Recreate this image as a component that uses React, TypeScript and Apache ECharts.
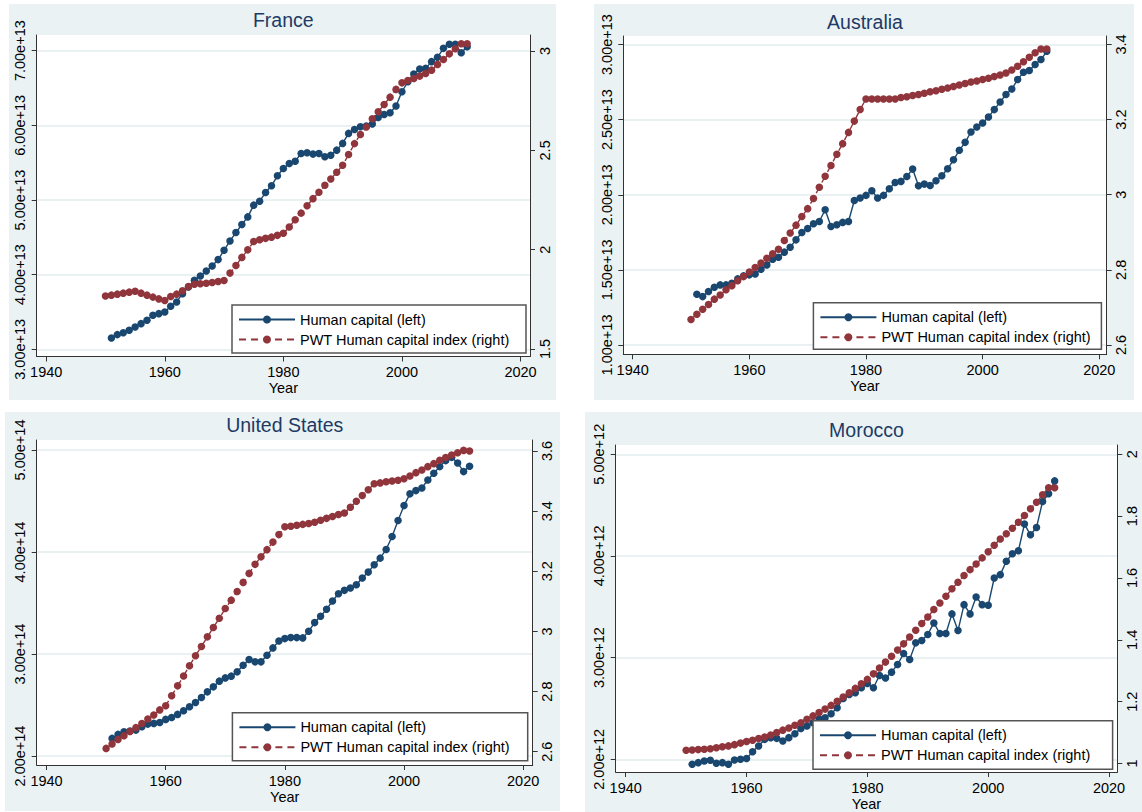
import React, { useEffect, useRef } from "react";
import * as echarts from "echarts";

// ---------- data ----------
const yearsPWT = [
  1950, 1951, 1952, 1953, 1954, 1955, 1956, 1957, 1958, 1959,
  1960, 1961, 1962, 1963, 1964, 1965, 1966, 1967, 1968, 1969,
  1970, 1971, 1972, 1973, 1974, 1975, 1976, 1977, 1978, 1979,
  1980, 1981, 1982, 1983, 1984, 1985, 1986, 1987, 1988, 1989,
  1990, 1991, 1992, 1993, 1994, 1995, 1996, 1997, 1998, 1999,
  2000, 2001, 2002, 2003, 2004, 2005, 2006, 2007, 2008, 2009,
  2010, 2011,
];
const yearsHC = [
  1951, 1952, 1953, 1954, 1955, 1956, 1957, 1958, 1959, 1960,
  1961, 1962, 1963, 1964, 1965, 1966, 1967, 1968, 1969, 1970,
  1971, 1972, 1973, 1974, 1975, 1976, 1977, 1978, 1979, 1980,
  1981, 1982, 1983, 1984, 1985, 1986, 1987, 1988, 1989, 1990,
  1991, 1992, 1993, 1994, 1995, 1996, 1997, 1998, 1999, 2000,
  2001, 2002, 2003, 2004, 2005, 2006, 2007, 2008, 2009, 2010,
  2011,
];

// Human capital (left axis), in units of the panel's exponent
const franceHC = [
  3.152, 3.197, 3.223, 3.255, 3.3, 3.344, 3.389, 3.456, 3.478, 3.5,
  3.577, 3.635, 3.746, 3.836, 3.925, 3.983, 4.05, 4.117, 4.202, 4.327,
  4.452, 4.564, 4.672, 4.774, 4.931, 4.984, 5.1, 5.19, 5.324, 5.422,
  5.489, 5.52, 5.623, 5.632, 5.615, 5.623, 5.579, 5.6, 5.668, 5.758,
  5.892, 5.945, 5.981, 5.99, 6.017, 6.106, 6.146, 6.169, 6.258, 6.45,
  6.584, 6.687, 6.754, 6.763, 6.853, 6.911, 7.031, 7.085, 7.085, 6.973,
  7.054,
];
const francePWT = [
  1.767, 1.771, 1.776, 1.781, 1.786, 1.791, 1.781, 1.771, 1.761, 1.752,
  1.744, 1.764, 1.776, 1.793, 1.814, 1.826, 1.828, 1.831, 1.835, 1.84,
  1.845, 1.882, 1.92, 1.961, 1.999, 2.041, 2.05, 2.057, 2.063, 2.072,
  2.083, 2.114, 2.151, 2.184, 2.221, 2.257, 2.289, 2.324, 2.356, 2.39,
  2.425, 2.479, 2.534, 2.58, 2.618, 2.659, 2.694, 2.731, 2.768, 2.807,
  2.84, 2.852, 2.862, 2.874, 2.887, 2.904, 2.933, 2.958, 2.986, 3.012,
  3.037, 3.037,
];
const australiaHC = [
  1.338, 1.322, 1.356, 1.384, 1.4, 1.4, 1.411, 1.44, 1.46, 1.467,
  1.473, 1.504, 1.533, 1.571, 1.584, 1.618, 1.651, 1.7, 1.749, 1.776,
  1.807, 1.822, 1.9, 1.789, 1.8, 1.816, 1.822, 1.962, 1.978, 1.996,
  2.027, 1.978, 1.996, 2.04, 2.082, 2.089, 2.122, 2.171, 2.06, 2.071,
  2.062, 2.093, 2.127, 2.173, 2.233, 2.296, 2.349, 2.418, 2.451, 2.478,
  2.518, 2.567, 2.618, 2.667, 2.704, 2.767, 2.816, 2.827, 2.867, 2.9,
  2.955,
];
const australiaPWT = [
  2.668, 2.682, 2.695, 2.708, 2.722, 2.733, 2.747, 2.758, 2.771, 2.782,
  2.794, 2.806, 2.818, 2.831, 2.843, 2.855, 2.878, 2.898, 2.919, 2.942,
  2.963, 2.99, 3.02, 3.049, 3.078, 3.108, 3.136, 3.166, 3.196, 3.227,
  3.255, 3.255, 3.255, 3.255, 3.255, 3.255, 3.259, 3.261, 3.264, 3.267,
  3.27, 3.274, 3.277, 3.281, 3.284, 3.288, 3.292, 3.296, 3.3, 3.303,
  3.307, 3.31, 3.315, 3.319, 3.324, 3.332, 3.342, 3.354, 3.366, 3.378,
  3.388, 3.388,
];
const usHC = [
  2.173, 2.212, 2.238, 2.245, 2.254, 2.287, 2.313, 2.32, 2.329, 2.359,
  2.378, 2.408, 2.443, 2.483, 2.525, 2.574, 2.629, 2.678, 2.734, 2.766,
  2.783, 2.825, 2.89, 2.946, 2.923, 2.923, 2.988, 3.06, 3.128, 3.151,
  3.161, 3.161, 3.158, 3.223, 3.308, 3.37, 3.438, 3.52, 3.591, 3.624,
  3.647, 3.679, 3.745, 3.803, 3.875, 3.94, 4.025, 4.152, 4.309, 4.455,
  4.57, 4.602, 4.628, 4.706, 4.772, 4.837, 4.896, 4.928, 4.873, 4.788,
  4.84,
];
const usPWT = [
  2.611, 2.626, 2.641, 2.653, 2.667, 2.68, 2.694, 2.709, 2.722, 2.739,
  2.753, 2.786, 2.819, 2.852, 2.886, 2.919, 2.95, 2.982, 3.013, 3.044,
  3.076, 3.104, 3.133, 3.163, 3.193, 3.223, 3.248, 3.272, 3.297, 3.322,
  3.348, 3.35, 3.353, 3.356, 3.359, 3.363, 3.37, 3.376, 3.382, 3.389,
  3.394, 3.413, 3.433, 3.452, 3.471, 3.491, 3.494, 3.498, 3.5, 3.503,
  3.508, 3.517, 3.528, 3.537, 3.548, 3.558, 3.569, 3.578, 3.587, 3.594,
  3.602, 3.6,
];
const moroccoHC = [
  1.951, 1.967, 1.984, 1.99, 1.961, 1.967, 1.951, 1.993, 2.0, 2.007,
  2.075, 2.131, 2.196, 2.213, 2.206, 2.18, 2.213, 2.252, 2.304, 2.327,
  2.36, 2.399, 2.409, 2.448, 2.507, 2.599, 2.638, 2.654, 2.703, 2.746,
  2.703, 2.824, 2.8, 2.857, 2.932, 3.04, 2.981, 3.145, 3.168, 3.227,
  3.341, 3.237, 3.237, 3.43, 3.266, 3.521, 3.43, 3.596, 3.521, 3.515,
  3.783, 3.816, 3.947, 4.022, 4.051, 4.313, 4.208, 4.28, 4.535, 4.611,
  4.738,
];
const moroccoPWT = [
  1.043, 1.044, 1.045, 1.046, 1.048, 1.051, 1.054, 1.057, 1.061, 1.066,
  1.071, 1.075, 1.081, 1.086, 1.092, 1.1, 1.108, 1.115, 1.124, 1.132,
  1.143, 1.154, 1.165, 1.176, 1.188, 1.201, 1.215, 1.229, 1.243, 1.258,
  1.272, 1.29, 1.309, 1.328, 1.347, 1.367, 1.387, 1.409, 1.431, 1.453,
  1.474, 1.498, 1.519, 1.541, 1.565, 1.586, 1.608, 1.627, 1.645, 1.665,
  1.685, 1.706, 1.726, 1.743, 1.761, 1.78, 1.802, 1.824, 1.845, 1.869,
  1.892, 1.892,
];

// tick labels
const xTicks = [1940, 1960, 1980, 2000, 2020];
const franceLeftTicks = [3, 4, 5, 6, 7];
const franceRightTicks = [1.5, 2, 2.5, 3];
const australiaLeftTicks = [1, 1.5, 2, 2.5, 3];
const australiaRightTicks = [2.6, 2.8, 3, 3.2, 3.4];
const usLeftTicks = [2, 3, 4, 5];
const usRightTicks = [2.6, 2.8, 3, 3.2, 3.4, 3.6];
const moroccoLeftTicks = [2, 3, 4, 5];
const moroccoRightTicks = [1, 1.2, 1.4, 1.6, 1.8, 2];

const HC_NAME = "Human capital (left)";
const PWT_NAME = "PWT Human capital index (right)";
const BLUE = "#1A476F";
const RED = "#90353B";
const BG = "#EAF2F3";
const FONT = '"Liberation Sans", Arial, Helvetica, sans-serif';

// ---------- layout ----------
const panels = [
  {
    title: "France", exp: 13, hc: franceHC, pwt: francePWT,
    lt: franceLeftTicks, rt: franceRightTicks,
    bg: [9, 4, 547, 396], grid: [36.7, 35, 493.3, 321.5],
    x: [1938.4, 2021.6], yl: [2.904, 7.21], yr: [1.462, 3.081],
    legend: [232, 305, 294, 48], titleXY: [283.3, 20],
  },
  {
    title: "Australia", exp: 13, hc: australiaHC, pwt: australiaPWT,
    lt: australiaLeftTicks, rt: australiaRightTicks,
    bg: [594, 4, 540, 396], grid: [623.3, 36, 483.4, 318.3],
    x: [1938.39, 2021.27], yl: [0.938, 3.057], yr: [2.5752, 3.4226],
    legend: [813.4, 302.7, 288, 46.6], titleXY: [865, 21.7],
  },
  {
    title: "United States", exp: 14, hc: usHC, pwt: usPWT,
    lt: usLeftTicks, rt: usRightTicks,
    bg: [5, 412, 555, 399], grid: [36.7, 440, 496, 325],
    x: [1938.35, 2021.6], yl: [1.912, 5.098], yr: [2.5558, 3.6366],
    legend: [232.4, 712.7, 295.3, 48], titleXY: [284.7, 425],
  },
  {
    title: "Morocco", exp: 12, hc: moroccoHC, pwt: moroccoPWT,
    lt: moroccoLeftTicks, rt: moroccoRightTicks,
    bg: [585, 412, 557, 400], grid: [615.7, 445, 501.6, 328.5],
    x: [1938.34, 2021.37], yl: [1.875, 5.091], yr: [0.9726, 2.03],
    legend: [813, 720.7, 299.6, 48.6], titleXY: [866.5, 430],
  },
];

function buildOption() {
  const grid: any[] = [];
  const xAxis: any[] = [];
  const yAxis: any[] = [];
  const series: any[] = [];
  const legend: any[] = [];
  const graphic: any[] = [];

  panels.forEach((p, i) => {
    const scale = Math.pow(10, p.exp);
    graphic.push({
      type: "rect", z: -10, silent: true,
      shape: { x: p.bg[0], y: p.bg[1], width: p.bg[2], height: p.bg[3] },
      style: { fill: BG },
    });
    graphic.push({
      type: "text", z: 10, silent: true,
      x: p.titleXY[0], y: p.titleXY[1],
      style: {
        text: p.title, fill: "#1E3A66", font: `19.5px ${FONT}`,
        textAlign: "center", textVerticalAlign: "middle",
      },
    });
    graphic.push({
      type: "rect", z: 3, silent: true,
      shape: { x: p.legend[0], y: p.legend[1], width: p.legend[2], height: p.legend[3] },
      style: { fill: "#fff", stroke: "#555", lineWidth: 1.5 },
    });

    grid.push({
      left: p.grid[0], top: p.grid[1], width: p.grid[2], height: p.grid[3],
      show: true, backgroundColor: "#fff", borderWidth: 0, containLabel: false,
    });

    xAxis.push({
      type: "value", gridIndex: i, min: p.x[0], max: p.x[1],
      name: "Year", nameLocation: "middle", nameGap: 24,
      nameTextStyle: { fontSize: 14.5, color: "#000", fontFamily: FONT },
      axisLine: { show: true, onZero: false, lineStyle: { color: "#333", width: 1 } },
      axisTick: { show: true, length: 5, customValues: xTicks, lineStyle: { color: "#333" } },
      axisLabel: {
        customValues: xTicks, fontSize: 14.5, color: "#000", fontFamily: FONT, margin: 8,
        formatter: (v: number) => String(Math.round(v)),
      },
      splitLine: { show: false },
    });

    const lt = p.lt.map((v) => v * scale);
    yAxis.push({
      type: "value", gridIndex: i, position: "left",
      min: p.yl[0] * scale, max: p.yl[1] * scale,
      axisLine: { show: true, onZero: false, lineStyle: { color: "#333", width: 1 } },
      axisTick: { show: true, length: 5, customValues: lt, lineStyle: { color: "#333" } },
      axisLabel: {
        customValues: lt, rotate: 90, fontSize: 14.5, color: "#000", fontFamily: FONT, margin: 9,
        formatter: (v: number) => (v / scale).toFixed(2) + "e+" + p.exp,
      },
      splitLine: { show: true, lineStyle: { color: "#E3ECEF", width: 1.5 } },
    });
    yAxis.push({
      type: "value", gridIndex: i, position: "right",
      min: p.yr[0], max: p.yr[1],
      axisLine: { show: true, onZero: false, lineStyle: { color: "#333", width: 1 } },
      axisTick: { show: true, length: 5, customValues: p.rt, lineStyle: { color: "#333" } },
      axisLabel: {
        customValues: p.rt, rotate: 90, fontSize: 14.5, color: "#000", fontFamily: FONT, margin: 7,
        formatter: (v: number) => String(Math.round(v * 10) / 10),
      },
      splitLine: { show: false },
    });

    series.push({
      type: "line", name: HC_NAME, xAxisIndex: i, yAxisIndex: 2 * i,
      data: p.hc.map((v, k) => [yearsHC[k], v * scale]),
      symbol: "circle", symbolSize: 7.5, showSymbol: true, showAllSymbol: true,
      lineStyle: { color: BLUE, width: 1.4 },
      itemStyle: { color: BLUE },
      z: 2,
    });
    series.push({
      type: "line", name: PWT_NAME, xAxisIndex: i, yAxisIndex: 2 * i + 1,
      data: p.pwt.map((v, k) => [yearsPWT[k], v]),
      symbol: "circle", symbolSize: 7.5, showSymbol: true, showAllSymbol: true,
      lineStyle: { color: RED, width: 1.4, type: [7, 5] },
      itemStyle: { color: RED },
      z: 2,
    });

    legend.push({
      orient: "vertical",
      left: p.legend[0] + 6, top: p.legend[1] + 7,
      padding: 0, itemGap: 5, itemWidth: 56, itemHeight: 10,
      selectedMode: false,
      textStyle: { fontSize: 14.5, color: "#000", fontFamily: FONT },
      data: [HC_NAME, PWT_NAME],
      z: 5,
    });
  });

  return {
    animation: false,
    backgroundColor: "#fff",
    textStyle: { fontFamily: FONT },
    grid, xAxis, yAxis, series, legend, graphic,
  };
}

export default function App() {
  const ref = useRef<HTMLDivElement>(null);
  useEffect(() => {
    if (!ref.current) return;
    const chart = echarts.init(ref.current, undefined, { renderer: "svg" });
    chart.setOption(buildOption() as any);
    return () => chart.dispose();
  }, []);
  return (
    <div
      ref={ref}
      style={{ position: "absolute", left: 0, top: 0, width: 1142, height: 812 }}
    />
  );
}
